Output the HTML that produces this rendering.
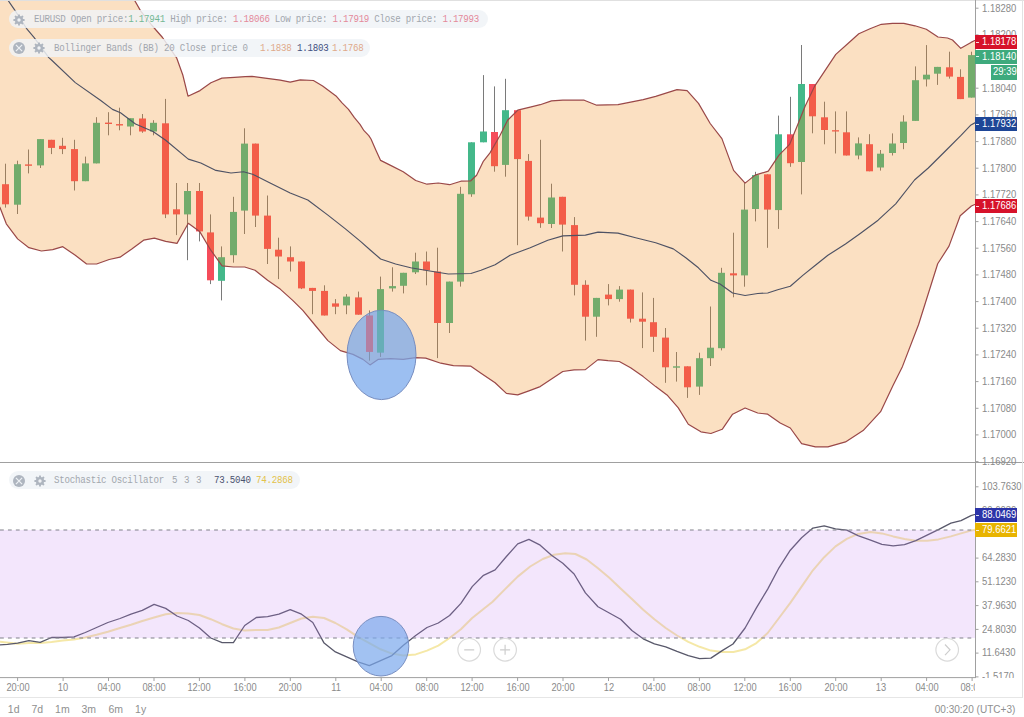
<!DOCTYPE html>
<html><head><meta charset="utf-8"><title>EURUSD chart</title>
<style>
*{margin:0;padding:0;box-sizing:border-box}
html,body{width:1024px;height:717px;overflow:hidden;background:#fff}
body{position:relative;font-family:"Liberation Sans",Arial,sans-serif}
.ax{position:absolute;left:981.6px;font-size:10.3px;line-height:10px;color:#8a8a8a;white-space:nowrap;transform:scaleX(0.92);transform-origin:0 50%}
.bx{position:absolute;left:975px;width:42px;height:14px;color:#fff;font-size:10.3px;line-height:14px;white-space:nowrap}
.nt:before{display:none}
.bx span{position:absolute;left:7.3px;top:0;transform:scaleX(0.92);transform-origin:0 50%}
.bx:before{content:"";position:absolute;left:1px;top:calc(50% - 0.5px);width:3px;height:1px;background:rgba(255,255,255,.85)}
.tl{position:absolute;top:682.6px;font-size:10.3px;line-height:10px;color:#8a8a8a;width:40px;text-align:center;white-space:nowrap;transform:scaleX(0.9)}
.pill{position:absolute;height:17.6px;border-radius:9px;background:rgba(240,243,247,0.84);font-family:"Liberation Mono",monospace;font-size:10.4px;letter-spacing:-0.286px;line-height:17.6px;color:#a2a7ae;white-space:pre}
.pill span{position:absolute;top:0.6px;transform:scaleX(0.88);transform-origin:0 50%}
.pill span span{transform:none}
.ic{position:absolute;top:3.4px;width:12px;height:12px}
.rng{position:absolute;top:703px;font-size:10.5px;line-height:12px;color:#8f8f8f}
</style></head><body>

<svg width="1024" height="717" viewBox="0 0 1024 717" style="position:absolute;left:0;top:0">
<defs><clipPath id="cm"><rect x="0" y="1" width="975" height="461"/></clipPath><clipPath id="cs"><rect x="0" y="463" width="975" height="214.5"/></clipPath><clipPath id="ce"><ellipse cx="381.5" cy="354.9" rx="34.5" ry="44.7"/></clipPath><clipPath id="ct"><rect x="0" y="678" width="975" height="20"/></clipPath></defs>
<g clip-path="url(#cm)">
<line x1="5.5" y1="163.7" x2="5.5" y2="207.6" stroke="rgb(122,122,122)" stroke-width="1"/>
<rect x="2.0" y="184.2" width="7.0" height="20.1" fill="rgb(245,76,90)"/>
<line x1="17.5" y1="160.7" x2="17.5" y2="214.0" stroke="rgb(122,122,122)" stroke-width="1"/>
<rect x="14.0" y="164.2" width="7.0" height="40.5" fill="rgb(68,184,138)"/>
<line x1="28.5" y1="149.5" x2="28.5" y2="173.4" stroke="rgb(122,122,122)" stroke-width="1"/>
<rect x="25.0" y="164.4" width="7.0" height="1.4" fill="rgb(245,76,90)"/>
<line x1="40.5" y1="139.1" x2="40.5" y2="168.0" stroke="rgb(122,122,122)" stroke-width="1"/>
<rect x="37.0" y="139.1" width="7.0" height="26.3" fill="rgb(68,184,138)"/>
<line x1="51.5" y1="139.8" x2="51.5" y2="154.1" stroke="rgb(122,122,122)" stroke-width="1"/>
<rect x="48.0" y="139.8" width="7.0" height="8.1" fill="rgb(245,76,90)"/>
<line x1="62.5" y1="137.8" x2="62.5" y2="154.1" stroke="rgb(122,122,122)" stroke-width="1"/>
<rect x="59.0" y="145.8" width="7.0" height="3.3" fill="rgb(245,76,90)"/>
<line x1="74.5" y1="139.8" x2="74.5" y2="190.5" stroke="rgb(122,122,122)" stroke-width="1"/>
<rect x="71.0" y="149.1" width="7.0" height="32.1" fill="rgb(245,76,90)"/>
<line x1="85.5" y1="156.6" x2="85.5" y2="181.2" stroke="rgb(122,122,122)" stroke-width="1"/>
<rect x="82.0" y="163.4" width="7.0" height="17.8" fill="rgb(68,184,138)"/>
<line x1="96.5" y1="117.2" x2="96.5" y2="163.4" stroke="rgb(122,122,122)" stroke-width="1"/>
<rect x="93.0" y="122.8" width="7.0" height="40.6" fill="rgb(68,184,138)"/>
<line x1="108.5" y1="112.2" x2="108.5" y2="135.3" stroke="rgb(122,122,122)" stroke-width="1"/>
<rect x="105.0" y="122.6" width="7.0" height="1.4" fill="rgb(245,76,90)"/>
<line x1="119.5" y1="107.7" x2="119.5" y2="130.3" stroke="rgb(122,122,122)" stroke-width="1"/>
<rect x="116.0" y="124.1" width="7.0" height="1.4" fill="rgb(245,76,90)"/>
<line x1="130.5" y1="118.2" x2="130.5" y2="135.3" stroke="rgb(122,122,122)" stroke-width="1"/>
<rect x="127.0" y="118.2" width="7.0" height="8.3" fill="rgb(68,184,138)"/>
<line x1="142.5" y1="114.0" x2="142.5" y2="132.8" stroke="rgb(122,122,122)" stroke-width="1"/>
<rect x="139.0" y="118.5" width="7.0" height="13.0" fill="rgb(245,76,90)"/>
<line x1="153.5" y1="120.2" x2="153.5" y2="135.3" stroke="rgb(122,122,122)" stroke-width="1"/>
<rect x="150.0" y="122.8" width="7.0" height="8.7" fill="rgb(68,184,138)"/>
<line x1="165.5" y1="98.9" x2="165.5" y2="218.1" stroke="rgb(122,122,122)" stroke-width="1"/>
<rect x="162.0" y="123.3" width="7.0" height="91.1" fill="rgb(245,76,90)"/>
<line x1="176.5" y1="183.0" x2="176.5" y2="235.1" stroke="rgb(122,122,122)" stroke-width="1"/>
<rect x="173.0" y="209.3" width="7.0" height="5.1" fill="rgb(245,76,90)"/>
<line x1="187.5" y1="183.0" x2="187.5" y2="260.2" stroke="rgb(122,122,122)" stroke-width="1"/>
<rect x="184.0" y="191.0" width="7.0" height="23.4" fill="rgb(68,184,138)"/>
<line x1="199.5" y1="183.0" x2="199.5" y2="241.4" stroke="rgb(122,122,122)" stroke-width="1"/>
<rect x="196.0" y="191.0" width="7.0" height="40.4" fill="rgb(245,76,90)"/>
<line x1="210.5" y1="214.4" x2="210.5" y2="284.1" stroke="rgb(122,122,122)" stroke-width="1"/>
<rect x="207.0" y="232.4" width="7.0" height="47.9" fill="rgb(245,76,90)"/>
<line x1="221.5" y1="246.4" x2="221.5" y2="300.4" stroke="rgb(122,122,122)" stroke-width="1"/>
<rect x="218.0" y="257.2" width="7.0" height="23.6" fill="rgb(68,184,138)"/>
<line x1="233.5" y1="196.8" x2="233.5" y2="262.7" stroke="rgb(122,122,122)" stroke-width="1"/>
<rect x="230.0" y="211.9" width="7.0" height="43.3" fill="rgb(68,184,138)"/>
<line x1="244.5" y1="128.3" x2="244.5" y2="234.0" stroke="rgb(122,122,122)" stroke-width="1"/>
<rect x="241.0" y="143.6" width="7.0" height="67.0" fill="rgb(68,184,138)"/>
<line x1="255.5" y1="143.6" x2="255.5" y2="227.0" stroke="rgb(122,122,122)" stroke-width="1"/>
<rect x="252.0" y="143.6" width="7.0" height="72.0" fill="rgb(245,76,90)"/>
<line x1="267.5" y1="195.5" x2="267.5" y2="264.0" stroke="rgb(122,122,122)" stroke-width="1"/>
<rect x="264.0" y="215.6" width="7.0" height="33.3" fill="rgb(245,76,90)"/>
<line x1="278.5" y1="237.7" x2="278.5" y2="279.1" stroke="rgb(122,122,122)" stroke-width="1"/>
<rect x="275.0" y="249.7" width="7.0" height="6.8" fill="rgb(245,76,90)"/>
<line x1="290.5" y1="246.4" x2="290.5" y2="271.5" stroke="rgb(122,122,122)" stroke-width="1"/>
<rect x="287.0" y="257.2" width="7.0" height="4.3" fill="rgb(245,76,90)"/>
<line x1="301.5" y1="261.5" x2="301.5" y2="289.1" stroke="rgb(122,122,122)" stroke-width="1"/>
<rect x="298.0" y="261.5" width="7.0" height="26.9" fill="rgb(245,76,90)"/>
<line x1="312.5" y1="287.9" x2="312.5" y2="314.2" stroke="rgb(122,122,122)" stroke-width="1"/>
<rect x="309.0" y="287.9" width="7.0" height="3.0" fill="rgb(245,76,90)"/>
<line x1="324.5" y1="285.3" x2="324.5" y2="315.5" stroke="rgb(122,122,122)" stroke-width="1"/>
<rect x="321.0" y="290.9" width="7.0" height="24.6" fill="rgb(245,76,90)"/>
<line x1="335.5" y1="299.1" x2="335.5" y2="314.2" stroke="rgb(122,122,122)" stroke-width="1"/>
<rect x="332.0" y="303.4" width="7.0" height="3.3" fill="rgb(245,76,90)"/>
<line x1="346.5" y1="294.1" x2="346.5" y2="314.2" stroke="rgb(122,122,122)" stroke-width="1"/>
<rect x="343.0" y="296.6" width="7.0" height="8.8" fill="rgb(68,184,138)"/>
<line x1="358.5" y1="291.6" x2="358.5" y2="314.7" stroke="rgb(122,122,122)" stroke-width="1"/>
<rect x="355.0" y="297.4" width="7.0" height="17.3" fill="rgb(245,76,90)"/>
<line x1="369.5" y1="310.4" x2="369.5" y2="360.6" stroke="rgb(122,122,122)" stroke-width="1"/>
<rect x="366.0" y="315.5" width="7.0" height="36.4" fill="rgb(245,76,90)"/>
<line x1="380.5" y1="276.6" x2="380.5" y2="356.9" stroke="rgb(122,122,122)" stroke-width="1"/>
<rect x="377.0" y="289.1" width="7.0" height="63.5" fill="rgb(68,184,138)"/>
<line x1="392.5" y1="267.3" x2="392.5" y2="291.6" stroke="rgb(122,122,122)" stroke-width="1"/>
<rect x="389.0" y="286.1" width="7.0" height="2.3" fill="rgb(68,184,138)"/>
<line x1="403.5" y1="272.8" x2="403.5" y2="293.4" stroke="rgb(122,122,122)" stroke-width="1"/>
<rect x="400.0" y="272.8" width="7.0" height="13.0" fill="rgb(68,184,138)"/>
<line x1="415.5" y1="252.7" x2="415.5" y2="274.0" stroke="rgb(122,122,122)" stroke-width="1"/>
<rect x="412.0" y="261.5" width="7.0" height="10.8" fill="rgb(68,184,138)"/>
<line x1="426.5" y1="251.5" x2="426.5" y2="285.3" stroke="rgb(122,122,122)" stroke-width="1"/>
<rect x="423.0" y="261.5" width="7.0" height="8.8" fill="rgb(245,76,90)"/>
<line x1="437.5" y1="247.7" x2="437.5" y2="358.1" stroke="rgb(122,122,122)" stroke-width="1"/>
<rect x="434.0" y="271.5" width="7.0" height="51.5" fill="rgb(245,76,90)"/>
<line x1="449.5" y1="281.6" x2="449.5" y2="333.0" stroke="rgb(122,122,122)" stroke-width="1"/>
<rect x="446.0" y="281.6" width="7.0" height="41.4" fill="rgb(68,184,138)"/>
<line x1="460.5" y1="186.8" x2="460.5" y2="286.6" stroke="rgb(122,122,122)" stroke-width="1"/>
<rect x="457.0" y="193.8" width="7.0" height="87.8" fill="rgb(68,184,138)"/>
<line x1="471.5" y1="142.3" x2="471.5" y2="196.8" stroke="rgb(122,122,122)" stroke-width="1"/>
<rect x="468.0" y="142.3" width="7.0" height="52.0" fill="rgb(68,184,138)"/>
<line x1="483.5" y1="75.1" x2="483.5" y2="142.3" stroke="rgb(122,122,122)" stroke-width="1"/>
<rect x="480.0" y="131.5" width="7.0" height="10.8" fill="rgb(68,184,138)"/>
<line x1="494.5" y1="86.4" x2="494.5" y2="171.7" stroke="rgb(122,122,122)" stroke-width="1"/>
<rect x="491.0" y="132.0" width="7.0" height="34.2" fill="rgb(245,76,90)"/>
<line x1="505.5" y1="78.8" x2="505.5" y2="176.7" stroke="rgb(122,122,122)" stroke-width="1"/>
<rect x="502.0" y="110.2" width="7.0" height="54.7" fill="rgb(68,184,138)"/>
<line x1="517.5" y1="110.2" x2="517.5" y2="245.2" stroke="rgb(122,122,122)" stroke-width="1"/>
<rect x="514.0" y="110.2" width="7.0" height="48.9" fill="rgb(245,76,90)"/>
<line x1="528.5" y1="154.1" x2="528.5" y2="220.6" stroke="rgb(122,122,122)" stroke-width="1"/>
<rect x="525.0" y="160.9" width="7.0" height="55.7" fill="rgb(245,76,90)"/>
<line x1="540.5" y1="139.8" x2="540.5" y2="227.8" stroke="rgb(122,122,122)" stroke-width="1"/>
<rect x="537.0" y="217.6" width="7.0" height="5.6" fill="rgb(245,76,90)"/>
<line x1="551.5" y1="183.7" x2="551.5" y2="228.0" stroke="rgb(122,122,122)" stroke-width="1"/>
<rect x="548.0" y="197.5" width="7.0" height="26.5" fill="rgb(68,184,138)"/>
<line x1="562.5" y1="196.8" x2="562.5" y2="251.5" stroke="rgb(122,122,122)" stroke-width="1"/>
<rect x="559.0" y="196.8" width="7.0" height="27.8" fill="rgb(245,76,90)"/>
<line x1="574.5" y1="217.1" x2="574.5" y2="295.4" stroke="rgb(122,122,122)" stroke-width="1"/>
<rect x="571.0" y="225.1" width="7.0" height="59.7" fill="rgb(245,76,90)"/>
<line x1="585.5" y1="280.3" x2="585.5" y2="340.6" stroke="rgb(122,122,122)" stroke-width="1"/>
<rect x="582.0" y="284.8" width="7.0" height="31.9" fill="rgb(245,76,90)"/>
<line x1="596.5" y1="297.9" x2="596.5" y2="336.8" stroke="rgb(122,122,122)" stroke-width="1"/>
<rect x="593.0" y="297.9" width="7.0" height="18.8" fill="rgb(68,184,138)"/>
<line x1="608.5" y1="284.1" x2="608.5" y2="305.4" stroke="rgb(122,122,122)" stroke-width="1"/>
<rect x="605.0" y="294.6" width="7.0" height="4.5" fill="rgb(245,76,90)"/>
<line x1="619.5" y1="286.1" x2="619.5" y2="301.7" stroke="rgb(122,122,122)" stroke-width="1"/>
<rect x="616.0" y="289.6" width="7.0" height="9.5" fill="rgb(68,184,138)"/>
<line x1="630.5" y1="289.6" x2="630.5" y2="322.5" stroke="rgb(122,122,122)" stroke-width="1"/>
<rect x="627.0" y="289.6" width="7.0" height="29.1" fill="rgb(245,76,90)"/>
<line x1="642.5" y1="292.4" x2="642.5" y2="348.1" stroke="rgb(122,122,122)" stroke-width="1"/>
<rect x="639.0" y="318.7" width="7.0" height="3.0" fill="rgb(245,76,90)"/>
<line x1="653.5" y1="297.9" x2="653.5" y2="351.9" stroke="rgb(122,122,122)" stroke-width="1"/>
<rect x="650.0" y="322.2" width="7.0" height="14.6" fill="rgb(245,76,90)"/>
<line x1="665.5" y1="328.0" x2="665.5" y2="382.8" stroke="rgb(122,122,122)" stroke-width="1"/>
<rect x="662.0" y="337.6" width="7.0" height="29.7" fill="rgb(245,76,90)"/>
<line x1="676.5" y1="352.0" x2="676.5" y2="381.6" stroke="rgb(122,122,122)" stroke-width="1"/>
<rect x="673.0" y="366.3" width="7.0" height="1.4" fill="rgb(68,184,138)"/>
<line x1="687.5" y1="366.3" x2="687.5" y2="397.9" stroke="rgb(122,122,122)" stroke-width="1"/>
<rect x="684.0" y="366.3" width="7.0" height="21.0" fill="rgb(245,76,90)"/>
<line x1="699.5" y1="352.7" x2="699.5" y2="394.9" stroke="rgb(122,122,122)" stroke-width="1"/>
<rect x="696.0" y="358.2" width="7.0" height="28.4" fill="rgb(68,184,138)"/>
<line x1="710.5" y1="306.5" x2="710.5" y2="366.0" stroke="rgb(122,122,122)" stroke-width="1"/>
<rect x="707.0" y="347.7" width="7.0" height="10.5" fill="rgb(68,184,138)"/>
<line x1="721.5" y1="267.8" x2="721.5" y2="350.4" stroke="rgb(122,122,122)" stroke-width="1"/>
<rect x="718.0" y="272.8" width="7.0" height="75.4" fill="rgb(68,184,138)"/>
<line x1="733.5" y1="232.7" x2="733.5" y2="297.3" stroke="rgb(122,122,122)" stroke-width="1"/>
<rect x="730.0" y="273.3" width="7.0" height="2.1" fill="rgb(245,76,90)"/>
<line x1="744.5" y1="183.1" x2="744.5" y2="286.7" stroke="rgb(122,122,122)" stroke-width="1"/>
<rect x="741.0" y="209.6" width="7.0" height="65.8" fill="rgb(68,184,138)"/>
<line x1="755.5" y1="171.8" x2="755.5" y2="221.4" stroke="rgb(122,122,122)" stroke-width="1"/>
<rect x="752.0" y="175.1" width="7.0" height="33.9" fill="rgb(68,184,138)"/>
<line x1="767.5" y1="174.3" x2="767.5" y2="247.8" stroke="rgb(122,122,122)" stroke-width="1"/>
<rect x="764.0" y="174.3" width="7.0" height="35.3" fill="rgb(245,76,90)"/>
<line x1="778.5" y1="115.6" x2="778.5" y2="228.9" stroke="rgb(122,122,122)" stroke-width="1"/>
<rect x="775.0" y="134.3" width="7.0" height="75.8" fill="rgb(68,184,138)"/>
<line x1="790.5" y1="96.8" x2="790.5" y2="166.8" stroke="rgb(122,122,122)" stroke-width="1"/>
<rect x="787.0" y="134.3" width="7.0" height="28.9" fill="rgb(245,76,90)"/>
<line x1="801.5" y1="45.0" x2="801.5" y2="194.4" stroke="rgb(122,122,122)" stroke-width="1"/>
<rect x="798.0" y="84.0" width="7.0" height="78.0" fill="rgb(68,184,138)"/>
<line x1="812.5" y1="84.0" x2="812.5" y2="133.3" stroke="rgb(122,122,122)" stroke-width="1"/>
<rect x="809.0" y="84.0" width="7.0" height="32.3" fill="rgb(245,76,90)"/>
<line x1="824.5" y1="101.7" x2="824.5" y2="144.3" stroke="rgb(122,122,122)" stroke-width="1"/>
<rect x="821.0" y="117.3" width="7.0" height="12.7" fill="rgb(245,76,90)"/>
<line x1="835.5" y1="111.4" x2="835.5" y2="153.5" stroke="rgb(122,122,122)" stroke-width="1"/>
<rect x="832.0" y="130.2" width="7.0" height="1.3" fill="rgb(245,76,90)"/>
<line x1="846.5" y1="111.4" x2="846.5" y2="155.5" stroke="rgb(122,122,122)" stroke-width="1"/>
<rect x="843.0" y="132.3" width="7.0" height="23.2" fill="rgb(245,76,90)"/>
<line x1="858.5" y1="137.4" x2="858.5" y2="159.3" stroke="rgb(122,122,122)" stroke-width="1"/>
<rect x="855.0" y="143.4" width="7.0" height="12.1" fill="rgb(68,184,138)"/>
<line x1="869.5" y1="134.2" x2="869.5" y2="171.3" stroke="rgb(122,122,122)" stroke-width="1"/>
<rect x="866.0" y="144.2" width="7.0" height="27.1" fill="rgb(245,76,90)"/>
<line x1="880.5" y1="150.0" x2="880.5" y2="170.6" stroke="rgb(122,122,122)" stroke-width="1"/>
<rect x="877.0" y="153.7" width="7.0" height="13.8" fill="rgb(68,184,138)"/>
<line x1="892.5" y1="133.4" x2="892.5" y2="155.5" stroke="rgb(122,122,122)" stroke-width="1"/>
<rect x="889.0" y="143.5" width="7.0" height="9.5" fill="rgb(68,184,138)"/>
<line x1="903.5" y1="115.3" x2="903.5" y2="149.2" stroke="rgb(122,122,122)" stroke-width="1"/>
<rect x="900.0" y="121.6" width="7.0" height="21.4" fill="rgb(68,184,138)"/>
<line x1="915.5" y1="66.4" x2="915.5" y2="120.9" stroke="rgb(122,122,122)" stroke-width="1"/>
<rect x="912.0" y="80.2" width="7.0" height="40.7" fill="rgb(68,184,138)"/>
<line x1="926.5" y1="45.1" x2="926.5" y2="86.5" stroke="rgb(122,122,122)" stroke-width="1"/>
<rect x="923.0" y="74.7" width="7.0" height="4.7" fill="rgb(68,184,138)"/>
<line x1="937.5" y1="66.9" x2="937.5" y2="84.9" stroke="rgb(122,122,122)" stroke-width="1"/>
<rect x="934.0" y="66.9" width="7.0" height="6.8" fill="rgb(68,184,138)"/>
<line x1="949.5" y1="51.7" x2="949.5" y2="78.6" stroke="rgb(122,122,122)" stroke-width="1"/>
<rect x="946.0" y="67.3" width="7.0" height="9.3" fill="rgb(245,76,90)"/>
<line x1="960.5" y1="69.3" x2="960.5" y2="99.1" stroke="rgb(122,122,122)" stroke-width="1"/>
<rect x="957.0" y="76.9" width="7.0" height="22.2" fill="rgb(245,76,90)"/>
<line x1="971.5" y1="51.7" x2="971.5" y2="97.6" stroke="rgb(122,122,122)" stroke-width="1"/>
<rect x="968.0" y="55.1" width="7.0" height="42.5" fill="rgb(68,184,138)"/>
<polygon points="-5.0,-140.0 120.0,-25.0 134.4,0.0 140.6,10.9 151.6,25.0 162.5,37.5 176.6,57.8 182.8,75.0 188.0,96.2 200.0,90.6 210.9,82.8 221.9,78.1 234.4,77.3 245.3,76.6 252.0,76.4 265.1,78.1 280.2,80.1 290.2,82.1 300.2,79.8 313.4,80.5 322.6,85.9 336.0,95.9 341.8,102.6 348.5,109.3 354.4,117.7 360.0,124.4 364.0,130.7 368.8,135.6 371.0,139.0 375.8,150.0 380.6,160.4 390.6,165.4 403.2,171.7 415.7,180.5 427.0,184.2 438.3,183.0 449.6,184.7 460.9,181.2 470.8,180.8 476.6,175.2 483.1,161.7 490.0,152.9 500.1,135.3 507.6,120.2 517.7,110.2 530.2,107.2 540.2,104.7 551.5,100.9 562.8,100.2 584.2,100.2 596.7,105.2 618.0,104.7 630.6,102.2 643.2,99.7 655.7,96.4 677.0,89.6 687.1,90.6 698.5,103.4 710.2,123.5 721.9,138.6 733.6,170.4 745.1,183.1 755.1,175.1 760.0,173.6 768.3,171.2 779.0,155.1 789.6,144.4 797.9,124.3 805.0,106.5 814.5,86.4 824.0,72.1 835.8,54.4 847.7,43.7 858.8,33.8 870.0,28.8 881.3,24.3 892.5,23.3 903.8,23.3 915.0,25.8 926.3,29.3 938.0,37.0 947.5,38.0 952.5,40.0 960.8,48.3 971.0,42.4 980.0,38.0 980.0,202.0 971.4,206.0 960.2,215.7 949.0,246.1 937.7,263.8 918.5,324.7 902.5,366.4 893.0,385.5 880.6,411.7 863.1,430.6 845.5,441.9 827.9,446.9 815.4,446.9 801.6,443.6 790.3,428.0 780.2,423.0 767.7,414.2 757.7,413.0 745.1,408.0 732.6,414.2 722.2,429.3 710.9,433.5 700.9,431.8 688.3,424.2 678.3,407.9 667.0,394.9 655.7,386.6 643.2,376.6 630.6,367.8 619.3,361.5 608.0,360.7 598.0,359.6 585.4,369.6 574.1,369.8 562.8,371.5 551.5,379.1 540.2,386.6 528.9,390.9 517.7,394.9 506.4,393.4 495.1,382.8 481.0,373.2 470.9,366.2 453.4,365.7 440.8,363.2 425.7,358.1 415.7,357.6 403.2,359.4 390.6,358.6 378.0,359.4 370.0,364.9 363.0,359.4 353.0,354.4 340.4,350.6 327.9,340.6 315.3,325.5 302.8,310.4 292.7,300.4 280.2,289.1 267.6,280.3 255.0,270.3 244.7,267.0 233.4,267.0 222.1,265.8 210.8,250.2 199.6,231.4 188.3,223.3 177.0,243.4 165.7,241.4 154.4,238.2 143.6,240.2 131.8,249.0 120.0,257.2 109.2,259.5 96.6,264.0 86.6,264.0 75.3,255.2 62.8,246.7 52.7,249.7 41.4,251.0 28.9,247.7 17.6,238.9 6.3,223.8 0.0,207.5 -5.0,200.0" fill="rgb(240,140,30)" fill-opacity="0.27"/>
<polyline points="-5.0,-140.0 120.0,-25.0 134.4,0.0 140.6,10.9 151.6,25.0 162.5,37.5 176.6,57.8 182.8,75.0 188.0,96.2 200.0,90.6 210.9,82.8 221.9,78.1 234.4,77.3 245.3,76.6 252.0,76.4 265.1,78.1 280.2,80.1 290.2,82.1 300.2,79.8 313.4,80.5 322.6,85.9 336.0,95.9 341.8,102.6 348.5,109.3 354.4,117.7 360.0,124.4 364.0,130.7 368.8,135.6 371.0,139.0 375.8,150.0 380.6,160.4 390.6,165.4 403.2,171.7 415.7,180.5 427.0,184.2 438.3,183.0 449.6,184.7 460.9,181.2 470.8,180.8 476.6,175.2 483.1,161.7 490.0,152.9 500.1,135.3 507.6,120.2 517.7,110.2 530.2,107.2 540.2,104.7 551.5,100.9 562.8,100.2 584.2,100.2 596.7,105.2 618.0,104.7 630.6,102.2 643.2,99.7 655.7,96.4 677.0,89.6 687.1,90.6 698.5,103.4 710.2,123.5 721.9,138.6 733.6,170.4 745.1,183.1 755.1,175.1 760.0,173.6 768.3,171.2 779.0,155.1 789.6,144.4 797.9,124.3 805.0,106.5 814.5,86.4 824.0,72.1 835.8,54.4 847.7,43.7 858.8,33.8 870.0,28.8 881.3,24.3 892.5,23.3 903.8,23.3 915.0,25.8 926.3,29.3 938.0,37.0 947.5,38.0 952.5,40.0 960.8,48.3 971.0,42.4 980.0,38.0" fill="none" stroke="rgb(154,72,72)" stroke-width="1.2" stroke-linejoin="round"/>
<polyline points="-5.0,200.0 0.0,207.5 6.3,223.8 17.6,238.9 28.9,247.7 41.4,251.0 52.7,249.7 62.8,246.7 75.3,255.2 86.6,264.0 96.6,264.0 109.2,259.5 120.0,257.2 131.8,249.0 143.6,240.2 154.4,238.2 165.7,241.4 177.0,243.4 188.3,223.3 199.6,231.4 210.8,250.2 222.1,265.8 233.4,267.0 244.7,267.0 255.0,270.3 267.6,280.3 280.2,289.1 292.7,300.4 302.8,310.4 315.3,325.5 327.9,340.6 340.4,350.6 353.0,354.4 363.0,359.4 370.0,364.9 378.0,359.4 390.6,358.6 403.2,359.4 415.7,357.6 425.7,358.1 440.8,363.2 453.4,365.7 470.9,366.2 481.0,373.2 495.1,382.8 506.4,393.4 517.7,394.9 528.9,390.9 540.2,386.6 551.5,379.1 562.8,371.5 574.1,369.8 585.4,369.6 598.0,359.6 608.0,360.7 619.3,361.5 630.6,367.8 643.2,376.6 655.7,386.6 667.0,394.9 678.3,407.9 688.3,424.2 700.9,431.8 710.9,433.5 722.2,429.3 732.6,414.2 745.1,408.0 757.7,413.0 767.7,414.2 780.2,423.0 790.3,428.0 801.6,443.6 815.4,446.9 827.9,446.9 845.5,441.9 863.1,430.6 880.6,411.7 893.0,385.5 902.5,366.4 918.5,324.7 937.7,263.8 949.0,246.1 960.2,215.7 971.4,206.0 980.0,202.0" fill="none" stroke="rgb(154,72,72)" stroke-width="1.2" stroke-linejoin="round"/>
<polyline points="0.0,-14.0 7.8,0.0 14.6,9.8 26.4,28.3 34.2,37.6 48.8,57.6 51.5,60.0 75.3,82.6 100.4,100.2 112.5,109.4 120.5,112.7 135.5,124.0 153.0,131.5 165.7,140.3 188.3,159.1 200.8,163.0 215.9,170.4 231.0,173.0 243.5,171.7 252.6,174.2 270.1,183.0 290.2,193.0 307.8,200.0 327.9,215.1 345.4,228.9 360.5,241.4 370.5,250.2 380.6,259.0 395.6,264.0 410.7,267.8 428.3,270.8 448.3,274.0 470.9,273.5 481.0,270.3 495.1,264.8 510.1,255.2 530.2,247.7 547.8,240.2 562.8,235.9 585.4,235.1 598.0,232.1 618.0,233.1 635.6,237.7 655.7,242.7 673.3,248.9 685.8,257.7 698.4,267.8 710.9,280.3 720.0,284.0 732.6,293.0 745.1,295.5 757.7,293.5 767.7,293.0 777.7,289.7 790.3,286.2 802.8,275.4 815.4,265.3 827.9,255.3 845.5,244.0 860.6,233.2 878.1,220.2 895.7,203.8 914.5,180.0 928.3,168.0 945.9,150.5 961.0,135.4 971.0,124.9 980.0,120.0" fill="none" stroke="rgb(78,82,100)" stroke-width="1.15" stroke-linejoin="round"/>
<ellipse cx="381.5" cy="354.9" rx="34.5" ry="44.7" fill="rgb(122,168,236)" fill-opacity="0.74" stroke="rgb(120,142,192)" stroke-width="1"/>
<g clip-path="url(#ce)"><g opacity="0.3"><line x1="369.5" y1="310.4" x2="369.5" y2="360.6" stroke="rgb(122,122,122)" stroke-width="1"/>
<rect x="366.0" y="315.5" width="7.0" height="36.4" fill="rgb(245,76,90)"/>
<line x1="380.5" y1="276.6" x2="380.5" y2="356.9" stroke="rgb(122,122,122)" stroke-width="1"/>
<rect x="377.0" y="289.1" width="7.0" height="63.5" fill="rgb(68,184,138)"/></g></g>
</g>
<g clip-path="url(#cs)">
<polyline points="0.0,641.8 17.6,643.8 28.9,643.1 40.2,643.1 51.5,642.0 62.8,640.6 74.0,639.6 85.3,637.5 96.6,634.8 107.9,631.8 120.0,628.0 131.0,624.7 142.3,621.0 154.1,617.5 165.7,614.2 177.0,613.0 188.3,613.5 199.5,615.0 210.8,619.2 222.1,624.2 233.4,628.5 244.7,630.5 256.0,630.0 267.6,630.0 278.9,627.5 290.2,623.0 301.5,618.5 312.8,616.7 324.1,618.0 335.4,623.0 346.7,629.3 358.0,636.8 369.3,643.1 380.6,649.3 391.9,653.6 403.1,655.6 415.7,654.4 427.0,650.6 438.3,645.6 449.6,638.0 460.9,629.3 472.2,618.0 483.5,609.0 492.6,601.7 505.1,589.1 517.7,576.6 530.2,566.5 542.8,559.0 554.0,554.7 565.3,553.2 575.4,554.0 586.7,559.5 598.0,568.3 609.3,577.8 620.6,588.4 631.9,599.1 643.2,609.7 654.4,619.2 665.7,628.0 677.0,635.5 688.3,641.8 699.6,646.8 710.9,650.6 722.2,651.9 733.5,651.9 745.1,649.3 756.4,643.1 767.7,633.0 779.0,618.0 790.3,602.9 801.6,586.6 812.9,570.3 824.2,557.2 835.5,546.4 846.8,538.9 858.0,533.9 870.6,531.9 881.9,533.4 893.2,536.4 904.5,538.9 915.8,540.7 927.1,540.7 938.4,539.4 950.9,536.4 961.0,533.4 971.0,530.6 980.0,529.0" fill="none" stroke="rgb(230,200,45)" stroke-opacity="0.42" stroke-width="2" stroke-linejoin="round"/>
<polyline points="0.0,644.8 7.5,644.3 17.6,643.1 28.9,640.6 40.2,642.3 51.5,637.5 62.8,637.5 74.0,636.8 85.3,632.5 96.6,627.5 107.9,622.5 120.0,618.5 131.0,614.2 142.3,610.4 154.1,604.4 165.7,608.4 177.0,616.0 188.3,620.5 199.5,628.0 210.8,638.0 222.1,642.6 233.4,642.6 244.7,625.5 256.3,617.5 267.6,616.7 278.9,614.2 290.2,609.7 301.5,614.2 312.8,622.5 324.1,643.1 335.4,651.9 346.7,656.9 358.0,661.9 369.3,665.7 380.6,660.6 391.9,655.6 403.1,645.6 415.7,635.5 427.0,627.5 438.3,623.0 449.6,615.5 460.9,603.4 472.2,586.6 483.5,575.3 495.1,569.8 506.4,556.5 517.7,543.9 528.9,539.4 540.2,545.2 551.5,555.2 562.8,563.3 574.1,574.0 585.4,592.9 598.0,606.7 609.3,613.0 620.6,619.2 631.9,630.5 643.2,638.8 654.4,643.8 665.7,646.8 677.0,651.4 688.3,655.6 699.6,658.6 710.9,658.1 722.2,650.6 733.0,644.0 745.1,628.0 756.4,607.9 767.7,589.1 779.0,567.8 790.3,550.2 801.6,537.7 812.9,528.1 824.2,525.9 835.5,528.9 846.8,530.1 858.0,535.6 870.6,540.2 881.9,544.4 893.2,545.9 904.5,544.7 915.8,540.7 927.1,535.1 938.4,529.6 950.9,523.1 961.0,520.6 971.0,515.6 980.0,513.0" fill="none" stroke="rgb(88,88,106)" stroke-width="1.3" stroke-linejoin="round"/>
<rect x="0" y="530" width="975" height="108" fill="rgb(195,130,240)" fill-opacity="0.2"/>
<line x1="0" y1="530" x2="975" y2="530" stroke="rgb(128,128,138)" stroke-width="1.2" stroke-dasharray="3.8,4.13"/>
<line x1="0" y1="638" x2="975" y2="638" stroke="rgb(128,128,138)" stroke-width="1.2" stroke-dasharray="3.8,4.13"/>
<ellipse cx="381" cy="646.2" rx="27.8" ry="29.8" fill="rgb(122,168,236)" fill-opacity="0.7" stroke="rgb(120,142,192)" stroke-width="1"/>
<circle cx="469.2" cy="649.8" r="11.3" fill="rgba(255,255,255,0.3)" stroke="rgb(218,218,218)" stroke-width="1.2"/>
<circle cx="505.1" cy="649.8" r="11.3" fill="rgba(255,255,255,0.3)" stroke="rgb(218,218,218)" stroke-width="1.2"/>
<circle cx="947.2" cy="649.8" r="11.3" fill="rgba(255,255,255,0.3)" stroke="rgb(218,218,218)" stroke-width="1.2"/>
<line x1="464.2" y1="649.8" x2="474.2" y2="649.8" stroke="rgb(205,205,205)" stroke-width="1.2"/>
<line x1="500.1" y1="649.8" x2="510.1" y2="649.8" stroke="rgb(205,205,205)" stroke-width="1.2"/>
<line x1="505.1" y1="644.8" x2="505.1" y2="654.8" stroke="rgb(205,205,205)" stroke-width="1.2"/>
<polyline points="945,644.5 950,649.8 945,655.1" fill="none" stroke="rgb(205,205,205)" stroke-width="1.2"/>
</g>
<line x1="0" y1="0.5" x2="1024" y2="0.5" stroke="rgb(224,224,224)" stroke-width="1"/>
<line x1="0" y1="462.5" x2="1024" y2="462.5" stroke="rgb(160,160,160)" stroke-width="1"/>
<line x1="975.5" y1="0" x2="975.5" y2="678" stroke="rgb(160,160,160)" stroke-width="1"/>
<line x1="0" y1="677.6" x2="976" y2="677.6" stroke="rgb(160,160,160)" stroke-width="1"/>
<line x1="0" y1="697.5" x2="1022" y2="697.5" stroke="rgb(230,230,230)" stroke-width="1"/>
<line x1="1022.5" y1="0" x2="1022.5" y2="698" stroke="rgb(226,226,226)" stroke-width="1"/>
<line x1="975" y1="8.2" x2="978.5" y2="8.2" stroke="rgb(160,160,160)" stroke-width="1"/>
<line x1="975" y1="34.9" x2="978.5" y2="34.9" stroke="rgb(160,160,160)" stroke-width="1"/>
<line x1="975" y1="61.5" x2="978.5" y2="61.5" stroke="rgb(160,160,160)" stroke-width="1"/>
<line x1="975" y1="88.2" x2="978.5" y2="88.2" stroke="rgb(160,160,160)" stroke-width="1"/>
<line x1="975" y1="114.9" x2="978.5" y2="114.9" stroke="rgb(160,160,160)" stroke-width="1"/>
<line x1="975" y1="141.6" x2="978.5" y2="141.6" stroke="rgb(160,160,160)" stroke-width="1"/>
<line x1="975" y1="168.2" x2="978.5" y2="168.2" stroke="rgb(160,160,160)" stroke-width="1"/>
<line x1="975" y1="194.9" x2="978.5" y2="194.9" stroke="rgb(160,160,160)" stroke-width="1"/>
<line x1="975" y1="221.6" x2="978.5" y2="221.6" stroke="rgb(160,160,160)" stroke-width="1"/>
<line x1="975" y1="248.2" x2="978.5" y2="248.2" stroke="rgb(160,160,160)" stroke-width="1"/>
<line x1="975" y1="274.9" x2="978.5" y2="274.9" stroke="rgb(160,160,160)" stroke-width="1"/>
<line x1="975" y1="301.6" x2="978.5" y2="301.6" stroke="rgb(160,160,160)" stroke-width="1"/>
<line x1="975" y1="328.2" x2="978.5" y2="328.2" stroke="rgb(160,160,160)" stroke-width="1"/>
<line x1="975" y1="354.9" x2="978.5" y2="354.9" stroke="rgb(160,160,160)" stroke-width="1"/>
<line x1="975" y1="381.6" x2="978.5" y2="381.6" stroke="rgb(160,160,160)" stroke-width="1"/>
<line x1="975" y1="408.3" x2="978.5" y2="408.3" stroke="rgb(160,160,160)" stroke-width="1"/>
<line x1="975" y1="434.9" x2="978.5" y2="434.9" stroke="rgb(160,160,160)" stroke-width="1"/>
<line x1="975" y1="461.6" x2="978.5" y2="461.6" stroke="rgb(160,160,160)" stroke-width="1"/>
<line x1="975" y1="486.8" x2="978.5" y2="486.8" stroke="rgb(160,160,160)" stroke-width="1"/>
<line x1="975" y1="510.6" x2="978.5" y2="510.6" stroke="rgb(160,160,160)" stroke-width="1"/>
<line x1="975" y1="534.3" x2="978.5" y2="534.3" stroke="rgb(160,160,160)" stroke-width="1"/>
<line x1="975" y1="558.1" x2="978.5" y2="558.1" stroke="rgb(160,160,160)" stroke-width="1"/>
<line x1="975" y1="581.8" x2="978.5" y2="581.8" stroke="rgb(160,160,160)" stroke-width="1"/>
<line x1="975" y1="605.6" x2="978.5" y2="605.6" stroke="rgb(160,160,160)" stroke-width="1"/>
<line x1="975" y1="629.4" x2="978.5" y2="629.4" stroke="rgb(160,160,160)" stroke-width="1"/>
<line x1="975" y1="653.1" x2="978.5" y2="653.1" stroke="rgb(160,160,160)" stroke-width="1"/>
<line x1="975" y1="676.9" x2="978.5" y2="676.9" stroke="rgb(160,160,160)" stroke-width="1"/>
<line x1="17.6" y1="677.6" x2="17.6" y2="681" stroke="rgb(160,160,160)" stroke-width="1"/>
<line x1="63.1" y1="677.6" x2="63.1" y2="681" stroke="rgb(160,160,160)" stroke-width="1"/>
<line x1="108.5" y1="677.6" x2="108.5" y2="681" stroke="rgb(160,160,160)" stroke-width="1"/>
<line x1="154.0" y1="677.6" x2="154.0" y2="681" stroke="rgb(160,160,160)" stroke-width="1"/>
<line x1="199.4" y1="677.6" x2="199.4" y2="681" stroke="rgb(160,160,160)" stroke-width="1"/>
<line x1="244.9" y1="677.6" x2="244.9" y2="681" stroke="rgb(160,160,160)" stroke-width="1"/>
<line x1="290.3" y1="677.6" x2="290.3" y2="681" stroke="rgb(160,160,160)" stroke-width="1"/>
<line x1="335.8" y1="677.6" x2="335.8" y2="681" stroke="rgb(160,160,160)" stroke-width="1"/>
<line x1="381.2" y1="677.6" x2="381.2" y2="681" stroke="rgb(160,160,160)" stroke-width="1"/>
<line x1="426.7" y1="677.6" x2="426.7" y2="681" stroke="rgb(160,160,160)" stroke-width="1"/>
<line x1="472.1" y1="677.6" x2="472.1" y2="681" stroke="rgb(160,160,160)" stroke-width="1"/>
<line x1="517.6" y1="677.6" x2="517.6" y2="681" stroke="rgb(160,160,160)" stroke-width="1"/>
<line x1="563.0" y1="677.6" x2="563.0" y2="681" stroke="rgb(160,160,160)" stroke-width="1"/>
<line x1="608.5" y1="677.6" x2="608.5" y2="681" stroke="rgb(160,160,160)" stroke-width="1"/>
<line x1="653.9" y1="677.6" x2="653.9" y2="681" stroke="rgb(160,160,160)" stroke-width="1"/>
<line x1="699.4" y1="677.6" x2="699.4" y2="681" stroke="rgb(160,160,160)" stroke-width="1"/>
<line x1="744.8" y1="677.6" x2="744.8" y2="681" stroke="rgb(160,160,160)" stroke-width="1"/>
<line x1="790.3" y1="677.6" x2="790.3" y2="681" stroke="rgb(160,160,160)" stroke-width="1"/>
<line x1="835.7" y1="677.6" x2="835.7" y2="681" stroke="rgb(160,160,160)" stroke-width="1"/>
<line x1="881.2" y1="677.6" x2="881.2" y2="681" stroke="rgb(160,160,160)" stroke-width="1"/>
<line x1="926.6" y1="677.6" x2="926.6" y2="681" stroke="rgb(160,160,160)" stroke-width="1"/>
<line x1="972.1" y1="677.6" x2="972.1" y2="681" stroke="rgb(160,160,160)" stroke-width="1"/>
</svg>
<div class="ax" style="top:3.6px">1.18280</div>
<div class="ax" style="top:30.3px">1.18200</div>
<div class="ax" style="top:83.6px">1.18040</div>
<div class="ax" style="top:110.3px">1.17960</div>
<div class="ax" style="top:137.0px">1.17880</div>
<div class="ax" style="top:163.6px">1.17800</div>
<div class="ax" style="top:190.3px">1.17720</div>
<div class="ax" style="top:217.0px">1.17640</div>
<div class="ax" style="top:243.6px">1.17560</div>
<div class="ax" style="top:270.3px">1.17480</div>
<div class="ax" style="top:297.0px">1.17400</div>
<div class="ax" style="top:323.6px">1.17320</div>
<div class="ax" style="top:350.3px">1.17240</div>
<div class="ax" style="top:377.0px">1.17160</div>
<div class="ax" style="top:403.7px">1.17080</div>
<div class="ax" style="top:430.3px">1.17000</div>
<div class="ax" style="top:457.0px">1.16920</div>
<div style="position:absolute;left:0;top:463px;width:1024px;height:214.6px;overflow:hidden">
<div class="ax" style="top:18.9px">103.7630</div>
<div class="ax" style="top:42.7px">90.6030</div>
<div class="ax" style="top:66.4px">77.4430</div>
<div class="ax" style="top:90.2px">64.2830</div>
<div class="ax" style="top:113.9px">51.1230</div>
<div class="ax" style="top:137.7px">37.9630</div>
<div class="ax" style="top:161.5px">24.8030</div>
<div class="ax" style="top:185.2px">11.6430</div>
<div class="ax" style="top:209.0px">-1.5170</div>
</div>
<div style="position:absolute;left:0;top:0;width:975px;height:700px;overflow:hidden">
<div class="tl" style="left:-2.4px">20:00</div>
<div class="tl" style="left:43.1px">10</div>
<div class="tl" style="left:88.5px">04:00</div>
<div class="tl" style="left:134.0px">08:00</div>
<div class="tl" style="left:179.4px">12:00</div>
<div class="tl" style="left:224.9px">16:00</div>
<div class="tl" style="left:270.3px">20:00</div>
<div class="tl" style="left:315.8px">11</div>
<div class="tl" style="left:361.2px">04:00</div>
<div class="tl" style="left:406.7px">08:00</div>
<div class="tl" style="left:452.1px">12:00</div>
<div class="tl" style="left:497.6px">16:00</div>
<div class="tl" style="left:543.0px">20:00</div>
<div class="tl" style="left:588.5px">12</div>
<div class="tl" style="left:633.9px">04:00</div>
<div class="tl" style="left:679.4px">08:00</div>
<div class="tl" style="left:724.8px">12:00</div>
<div class="tl" style="left:770.3px">16:00</div>
<div class="tl" style="left:815.7px">20:00</div>
<div class="tl" style="left:861.2px">13</div>
<div class="tl" style="left:906.6px">04:00</div>
<div class="tl" style="left:952.1px">08:00</div>
</div>
<div class="bx" style="top:35.2px;height:14.0px;line-height:14.0px;background:rgb(214,18,42);left:975.0px;width:42.0px"><span>1.18178</span></div>
<div class="bx" style="top:49.7px;height:14.0px;line-height:14.0px;background:rgb(62,170,125);left:975.0px;width:42.0px"><span>1.18140</span></div>
<div class="bx nt" style="top:65.4px;height:14.2px;line-height:14.2px;background:rgb(62,170,125);left:991px;width:26px"><span style="left:2.3px">29:39</span></div>
<div class="bx" style="top:117.2px;height:14.0px;line-height:14.0px;background:rgb(30,70,150);left:975.0px;width:42.0px"><span>1.17932</span></div>
<div class="bx" style="top:199.2px;height:14.0px;line-height:14.0px;background:rgb(214,18,42);left:975.0px;width:42.0px"><span>1.17686</span></div>
<div class="bx" style="top:508.2px;height:14.0px;line-height:14.0px;background:rgb(44,52,168);left:975.0px;width:42.0px"><span>88.0469</span></div>
<div class="bx" style="top:523.3px;height:14.0px;line-height:14.0px;background:rgb(232,180,0);left:975.0px;width:42.0px"><span>79.6621</span></div>
<div class="pill" style="left:9px;top:10.2px;width:479px"><svg class="ic" style="left:4px" viewBox="0 0 12 12"><g fill="#aeb5bf"><circle cx="6" cy="6" r="4.1"/><rect x="5.05" y="0.4" width="1.9" height="2.6" rx="0.3" transform="rotate(0 6 6)"/><rect x="5.05" y="0.4" width="1.9" height="2.6" rx="0.3" transform="rotate(45 6 6)"/><rect x="5.05" y="0.4" width="1.9" height="2.6" rx="0.3" transform="rotate(90 6 6)"/><rect x="5.05" y="0.4" width="1.9" height="2.6" rx="0.3" transform="rotate(135 6 6)"/><rect x="5.05" y="0.4" width="1.9" height="2.6" rx="0.3" transform="rotate(180 6 6)"/><rect x="5.05" y="0.4" width="1.9" height="2.6" rx="0.3" transform="rotate(225 6 6)"/><rect x="5.05" y="0.4" width="1.9" height="2.6" rx="0.3" transform="rotate(270 6 6)"/><rect x="5.05" y="0.4" width="1.9" height="2.6" rx="0.3" transform="rotate(315 6 6)"/></g><circle cx="6" cy="6" r="1.7" fill="#f0f2f5"/></svg><span style="left:24.5px">EURUSD Open price:<span style="position:static;color:#74b894">1.17941</span> High price: <span style="position:static;color:#e4899a">1.18066</span> Low price: <span style="position:static;color:#e4899a">1.17919</span> Close price: <span style="position:static;color:#e4899a">1.17993</span></span></div>
<div class="pill" style="left:9px;top:39px;width:361px"><svg class="ic" style="left:4px" viewBox="0 0 12 12"><circle cx="6" cy="6" r="6" fill="#aeb5bf"/><path d="M2.9 2.9L9.1 9.1M9.1 2.9L2.9 9.1" stroke="#eef1f5" stroke-width="1.2"/></svg><svg class="ic" style="left:24px" viewBox="0 0 12 12"><g fill="#aeb5bf"><circle cx="6" cy="6" r="4.1"/><rect x="5.05" y="0.4" width="1.9" height="2.6" rx="0.3" transform="rotate(0 6 6)"/><rect x="5.05" y="0.4" width="1.9" height="2.6" rx="0.3" transform="rotate(45 6 6)"/><rect x="5.05" y="0.4" width="1.9" height="2.6" rx="0.3" transform="rotate(90 6 6)"/><rect x="5.05" y="0.4" width="1.9" height="2.6" rx="0.3" transform="rotate(135 6 6)"/><rect x="5.05" y="0.4" width="1.9" height="2.6" rx="0.3" transform="rotate(180 6 6)"/><rect x="5.05" y="0.4" width="1.9" height="2.6" rx="0.3" transform="rotate(225 6 6)"/><rect x="5.05" y="0.4" width="1.9" height="2.6" rx="0.3" transform="rotate(270 6 6)"/><rect x="5.05" y="0.4" width="1.9" height="2.6" rx="0.3" transform="rotate(315 6 6)"/></g><circle cx="6" cy="6" r="1.7" fill="#f0f2f5"/></svg><span style="left:45px">Bollinger Bands (BB) 20 Close price 0</span><span style="left:251px;color:#dfa98a">1.1838</span><span style="left:287.5px;color:#3f4f80">1.1803</span><span style="left:323px;color:#dfa98a">1.1768</span></div>
<div class="pill" style="left:8.6px;top:471.2px;width:291px;height:17.4px"><svg class="ic" style="left:4px" viewBox="0 0 12 12"><circle cx="6" cy="6" r="6" fill="#aeb5bf"/><path d="M2.9 2.9L9.1 9.1M9.1 2.9L2.9 9.1" stroke="#eef1f5" stroke-width="1.2"/></svg><svg class="ic" style="left:25px" viewBox="0 0 12 12"><g fill="#aeb5bf"><circle cx="6" cy="6" r="4.1"/><rect x="5.05" y="0.4" width="1.9" height="2.6" rx="0.3" transform="rotate(0 6 6)"/><rect x="5.05" y="0.4" width="1.9" height="2.6" rx="0.3" transform="rotate(45 6 6)"/><rect x="5.05" y="0.4" width="1.9" height="2.6" rx="0.3" transform="rotate(90 6 6)"/><rect x="5.05" y="0.4" width="1.9" height="2.6" rx="0.3" transform="rotate(135 6 6)"/><rect x="5.05" y="0.4" width="1.9" height="2.6" rx="0.3" transform="rotate(180 6 6)"/><rect x="5.05" y="0.4" width="1.9" height="2.6" rx="0.3" transform="rotate(225 6 6)"/><rect x="5.05" y="0.4" width="1.9" height="2.6" rx="0.3" transform="rotate(270 6 6)"/><rect x="5.05" y="0.4" width="1.9" height="2.6" rx="0.3" transform="rotate(315 6 6)"/></g><circle cx="6" cy="6" r="1.7" fill="#f0f2f5"/></svg><span style="left:45.3px">Stochastic Oscillator</span><span style="left:163px">5</span><span style="left:175.4px">3</span><span style="left:187.5px">3</span><span style="left:205.5px;color:#4c5270">73.5040</span><span style="left:247px;color:#e3c24a">74.2868</span></div>
<div class="rng" style="left:-1.3px;width:30px;text-align:center">1d</div>
<div class="rng" style="left:22.3px;width:30px;text-align:center">7d</div>
<div class="rng" style="left:47.4px;width:30px;text-align:center">1m</div>
<div class="rng" style="left:73.8px;width:30px;text-align:center">3m</div>
<div class="rng" style="left:100.7px;width:30px;text-align:center">6m</div>
<div class="rng" style="left:125.6px;width:30px;text-align:center">1y</div>
<div class="rng" style="right:8.8px;text-align:right;transform:scaleX(0.956);transform-origin:100% 50%">00:30:20 (UTC+3)</div>
</body></html>
